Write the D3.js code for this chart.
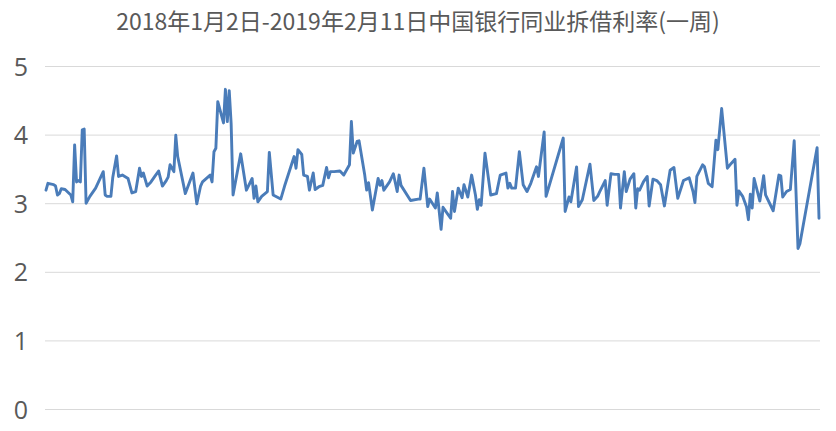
<!DOCTYPE html>
<html>
<head>
<meta charset="utf-8">
<script src="https://cdn.jsdelivr.net/npm/d3@7"></script>
<style>
  html, body { margin: 0; padding: 0; background: #fff; }
  svg { display: block; }
</style>
</head>
<body>
<div id="chart"></div>
<script>
// 标题与坐标
const title = '2018年1月2日-2019年2月11日中国银行同业拆借利率(一周)';
const startDate = '2018-01-02';
const endDate = '2019-02-11';
const yTicks = [0, 1, 2, 3, 4, 5];

// 距 2018-01-02 的天数
const dayOffset = [
  0, 1, 4, 5, 6, 7, 8, 10, 13, 14, 15, 16, 17, 18, 19, 20, 21, 23, 26, 30,
  31, 32, 34, 35, 37, 38, 40, 43, 45, 47, 49, 50, 51, 53, 55, 57, 59, 61, 63, 64,
  65, 67, 68, 69, 73, 77, 79, 81, 82, 86, 87, 88, 89, 90, 93, 94, 95, 96, 97, 98,
  102, 105, 108, 109, 110, 111, 113, 116, 117, 119, 123, 125, 130, 131, 132, 134, 135,
  137, 138, 140, 141, 143, 145, 147, 148, 149, 151, 154, 156, 159, 160, 161, 163, 164,
  167, 168, 169, 171, 174, 175, 176, 177, 180, 182, 184, 185, 186, 191, 195, 196, 198,
  200, 201, 204, 205, 207, 208, 212, 213, 214, 216, 218, 219, 221, 223, 225, 226, 227,
  228, 230, 233, 236, 238, 241, 242, 243, 244, 246, 248, 250, 252, 254, 257, 258, 261,
  262, 271, 272, 274, 275, 278, 279, 281, 285, 287, 289, 290, 293, 294, 296, 298, 300,
  301, 303, 304, 306, 308, 309, 310, 311, 313, 315, 316, 318, 320, 322, 324, 327, 329,
  331, 334, 337, 339, 340, 341, 344, 345, 347, 349, 351, 352, 354, 357, 359, 361, 362,
  363, 365, 367, 368, 369, 370, 371, 374, 376, 377, 381, 384, 385, 386, 388, 390, 392,
  394, 395, 404, 405
];

// 一周拆借利率 (%)
const rate = [
  3.19, 3.29, 3.27, 3.25, 3.12, 3.14, 3.21, 3.20, 3.12, 3.02, 3.85, 3.31, 3.33, 3.31, 4.07, 4.08, 3.00, 3.10, 3.22, 3.46,
  3.12, 3.10, 3.10, 3.38, 3.69, 3.39, 3.41, 3.36, 3.15, 3.17, 3.51, 3.39, 3.44, 3.25, 3.31, 3.39, 3.47, 3.25, 3.33, 3.38,
  3.56, 3.46, 3.99, 3.68, 3.14, 3.44, 2.99, 3.25, 3.31, 3.41, 3.31, 3.75, 3.80, 4.48, 4.17, 4.66, 4.19, 4.64, 4.16, 3.12,
  3.72, 3.19, 3.36, 3.07, 3.25, 3.02, 3.10, 3.17, 3.74, 3.12, 3.06, 3.25, 3.68, 3.51, 3.78, 3.71, 3.41,
  3.39, 3.19, 3.44, 3.20, 3.24, 3.26, 3.52, 3.37, 3.46, 3.46, 3.47, 3.41, 3.56, 4.19, 3.73, 3.90, 3.91,
  3.41, 3.19, 3.30, 2.90, 3.36, 3.26, 3.33, 3.19, 3.31, 3.43, 3.17, 3.41, 3.26, 3.04, 3.06, 3.06, 3.51,
  2.95, 3.06, 2.93, 3.15, 2.62, 2.94, 2.78, 3.17, 2.88, 3.22, 3.08, 3.27, 3.09, 3.41, 3.12, 2.91, 3.05,
  2.97, 3.73, 3.12, 3.14, 3.41, 3.44, 3.22, 3.29, 3.22, 3.22, 3.75, 3.27, 3.17, 3.29, 3.53, 3.39, 4.04,
  3.10, 3.95, 2.88, 3.09, 3.02, 3.53, 2.95, 3.05, 3.57, 3.04, 3.10, 3.16, 3.33, 2.97, 3.43, 3.42, 3.42,
  2.93, 3.46, 3.17, 3.35, 3.43, 2.93, 3.21, 3.19, 3.31, 3.39, 2.96, 3.35, 3.33, 3.27, 2.96, 3.48, 3.52,
  3.07, 3.33, 3.37, 3.17, 3.01, 3.39, 3.56, 3.53, 3.29, 3.24, 3.92, 3.78, 4.38, 3.51, 3.58, 3.64, 2.97,
  3.18, 3.10, 2.95, 2.76, 3.13, 2.93, 3.36, 3.03, 3.40, 3.12, 2.89, 3.41, 3.40, 3.09, 3.17, 3.20, 3.91,
  2.34, 2.41, 3.81, 2.78
];

const width = 836, height = 431;
const margin = { left: 46, right: 17, top: 66, bottom: 22 };

const parse = d3.timeParse('%Y-%m-%d');
const t0 = parse(startDate);
const data = dayOffset.map((d, i) => ({ date: d3.timeDay.offset(t0, d), value: rate[i] }));

const svg = d3.select('#chart').append('svg')
  .attr('width', width)
  .attr('height', height);

const x = d3.scaleTime()
  .domain([t0, parse(endDate)])
  .range([margin.left, width - margin.right]);

const y = d3.scaleLinear()
  .domain([0, 5])
  .range([height - margin.bottom, margin.top]);

// 网格线 + 纵轴刻度
const yAxis = svg.append('g')
  .attr('transform', `translate(${margin.left - 1},0)`)
  .call(d3.axisLeft(y)
    .tickValues(yTicks)
    .tickFormat(d3.format('d'))
    .tickSize(-(width - margin.left - margin.right + 2))
    .tickPadding(17));
yAxis.select('.domain').remove();
yAxis.selectAll('.tick line')
  .attr('stroke', '#d9d9d9')
  .attr('stroke-width', 1);
yAxis.selectAll('.tick text')
  .attr('fill', '#595959')
  .attr('dy', '0.36em')
  .style('font-family', '"Open Sans", "Noto Sans", sans-serif')
  .style('font-size', '25px');

// 折线
const line = d3.line()
  .x(d => x(d.date))
  .y(d => y(d.value));

svg.append('path')
  .datum(data)
  .attr('d', line)
  .attr('fill', 'none')
  .attr('stroke', '#4a7cb9')
  .attr('stroke-width', 2.9)
  .attr('stroke-linejoin', 'round')
  .attr('stroke-linecap', 'round');

// 标题
svg.append('text')
  .attr('x', 418)
  .attr('y', 30)
  .attr('text-anchor', 'middle')
  .attr('fill', '#595959')
  .style('font-family', '"Noto Sans CJK SC", sans-serif')
  .style('font-size', '23px')
  .text(title);
</script>
</body>
</html>
